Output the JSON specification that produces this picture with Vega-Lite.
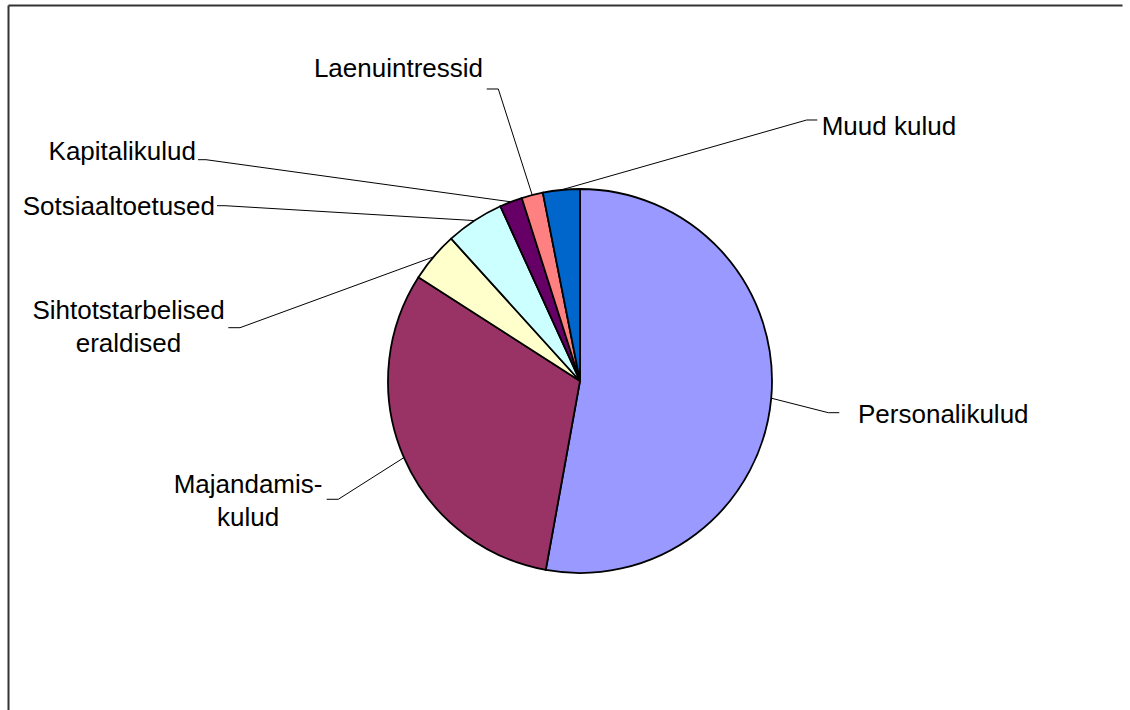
{
  "$schema": "https://vega.github.io/schema/vega-lite/v6.json",
  "width": 1114,
  "height": 705,
  "autosize": {"type": "none"},
  "padding": {"left": 8, "top": 5, "right": 8, "bottom": 0},
  "background": "white",
  "config": {
    "view": {"stroke": null},
    "font": "Liberation Sans",
    "axis": {"domain": true, "ticks": false, "labels": false, "grid": false, "title": null, "domainColor": "#333333", "domainWidth": 2}
  },
  "datasets": {
    "slices": [
      {"idx": 1, "category": "Personalikulud", "value": 52.8},
      {"idx": 2, "category": "Majandamiskulud", "value": 31.2},
      {"idx": 3, "category": "Sihtotstarbelised eraldised", "value": 4.2},
      {"idx": 4, "category": "Sotsiaaltoetused", "value": 4.9},
      {"idx": 5, "category": "Kapitalikulud", "value": 1.9},
      {"idx": 6, "category": "Laenuintressid", "value": 1.8},
      {"idx": 7, "category": "Muud kulud", "value": 3.1}
    ],
    "labels": [
      {"category": "Personalikulud", "lines": ["Personalikulud"], "ex": 1.2932, "ey": -0.1651, "hx": 1.3505, "tx": 1.4479, "ty": -0.2203, "align": "left"},
      {"category": "Majandamiskulud", "lines": ["Majandamis-", "kulud"], "ex": -1.2589, "ey": -0.6161, "hx": -1.3193, "tx": -1.729, "ty": -0.5818, "align": "center"},
      {"category": "Sihtotstarbelised eraldised", "lines": ["Sihtotstarbelised", "eraldised"], "ex": -1.7708, "ey": 0.2776, "hx": -1.8318, "tx": -2.3516, "ty": 0.3214, "align": "center"},
      {"category": "Sotsiaaltoetused", "lines": ["Sotsiaaltoetused"], "ex": -1.849, "ey": 0.913, "hx": -1.8906, "tx": -1.901, "ty": 0.8646, "align": "right"},
      {"category": "Kapitalikulud", "lines": ["Kapitalikulud"], "ex": -1.9479, "ey": 1.1526, "hx": -1.9896, "tx": -2.0, "ty": 1.151, "align": "right"},
      {"category": "Laenuintressid", "lines": ["Laenuintressid"], "ex": -0.4255, "ey": 1.5208, "hx": -0.4859, "tx": -0.5052, "ty": 1.5807, "align": "right"},
      {"category": "Muud kulud", "lines": ["Muud kulud"], "ex": 1.1807, "ey": 1.3594, "hx": 1.2359, "tx": 1.2589, "ty": 1.2813, "align": "left"}
    ]
  },
  "layer": [
    {
      "data": {"name": "slices"},
      "mark": {"type": "arc", "outerRadius": 192, "stroke": "#000000", "strokeWidth": 1.8},
      "encoding": {
        "x": {"datum": 0, "type": "quantitative", "scale": {"domain": [-2.9792, 2.8229], "nice": false, "zero": false}, "axis": {"orient": "top"}},
        "y": {"datum": 0, "type": "quantitative", "scale": {"domain": [-1.7136, 1.9583], "nice": false, "zero": false}, "axis": {"orient": "left"}},
        "theta": {"field": "value", "type": "quantitative", "stack": true},
        "order": {"field": "idx", "type": "quantitative"},
        "color": {
          "field": "category",
          "type": "nominal",
          "scale": {
            "domain": ["Personalikulud", "Majandamiskulud", "Sihtotstarbelised eraldised", "Sotsiaaltoetused", "Kapitalikulud", "Laenuintressid", "Muud kulud"],
            "range": ["#9999FF", "#993366", "#FFFFCC", "#CCFFFF", "#660066", "#FF8080", "#0066CC"]
          },
          "legend": null
        }
      }
    },
    {
      "data": {"name": "slices"},
      "transform": [
        {"window": [{"op": "sum", "field": "value", "as": "cum"}], "sort": [{"field": "idx"}]},
        {"joinaggregate": [{"op": "sum", "field": "value", "as": "total"}]},
        {"calculate": "2*PI*(datum.cum - datum.value/2)/datum.total", "as": "mid"},
        {"calculate": "sin(datum.mid)", "as": "su"},
        {"calculate": "cos(datum.mid)", "as": "sv"},
        {"lookup": "category", "from": {"data": {"name": "labels"}, "key": "category", "fields": ["lines", "ex", "ey", "hx", "tx", "ty", "align"]}}
      ],
      "layer": [
        {
          "mark": {"type": "rule", "color": "#000000", "strokeWidth": 1},
          "encoding": {
            "x": {"field": "su", "type": "quantitative", "scale": {"domain": [-2.9792, 2.8229], "nice": false, "zero": false}, "axis": {"orient": "top"}},
            "y": {"field": "sv", "type": "quantitative", "scale": {"domain": [-1.7136, 1.9583], "nice": false, "zero": false}, "axis": {"orient": "left"}},
            "x2": {"field": "ex"},
            "y2": {"field": "ey"}
          }
        },
        {
          "mark": {"type": "rule", "color": "#000000", "strokeWidth": 1},
          "encoding": {
            "x": {"field": "ex", "type": "quantitative", "scale": {"domain": [-2.9792, 2.8229], "nice": false, "zero": false}, "axis": {"orient": "top"}},
            "y": {"field": "ey", "type": "quantitative", "scale": {"domain": [-1.7136, 1.9583], "nice": false, "zero": false}, "axis": {"orient": "left"}},
            "x2": {"field": "hx"},
            "y2": {"field": "ey"}
          }
        },
        {
          "transform": [{"filter": "datum.align === 'left'"}],
          "mark": {"type": "text", "fontSize": 26, "align": "left", "baseline": "alphabetic", "color": "#000000", "lineHeight": 33},
          "encoding": {
            "x": {"field": "tx", "type": "quantitative", "scale": {"domain": [-2.9792, 2.8229], "nice": false, "zero": false}, "axis": {"orient": "top"}},
            "y": {"field": "ty", "type": "quantitative", "scale": {"domain": [-1.7136, 1.9583], "nice": false, "zero": false}, "axis": {"orient": "left"}},
            "text": {"field": "lines"}
          }
        },
        {
          "transform": [{"filter": "datum.align === 'right'"}],
          "mark": {"type": "text", "fontSize": 26, "align": "right", "baseline": "alphabetic", "color": "#000000", "lineHeight": 33},
          "encoding": {
            "x": {"field": "tx", "type": "quantitative", "scale": {"domain": [-2.9792, 2.8229], "nice": false, "zero": false}, "axis": {"orient": "top"}},
            "y": {"field": "ty", "type": "quantitative", "scale": {"domain": [-1.7136, 1.9583], "nice": false, "zero": false}, "axis": {"orient": "left"}},
            "text": {"field": "lines"}
          }
        },
        {
          "transform": [{"filter": "datum.align === 'center'"}],
          "mark": {"type": "text", "fontSize": 26, "align": "center", "baseline": "alphabetic", "color": "#000000", "lineHeight": 33},
          "encoding": {
            "x": {"field": "tx", "type": "quantitative", "scale": {"domain": [-2.9792, 2.8229], "nice": false, "zero": false}, "axis": {"orient": "top"}},
            "y": {"field": "ty", "type": "quantitative", "scale": {"domain": [-1.7136, 1.9583], "nice": false, "zero": false}, "axis": {"orient": "left"}},
            "text": {"field": "lines"}
          }
        }
      ]
    }
  ]
}
